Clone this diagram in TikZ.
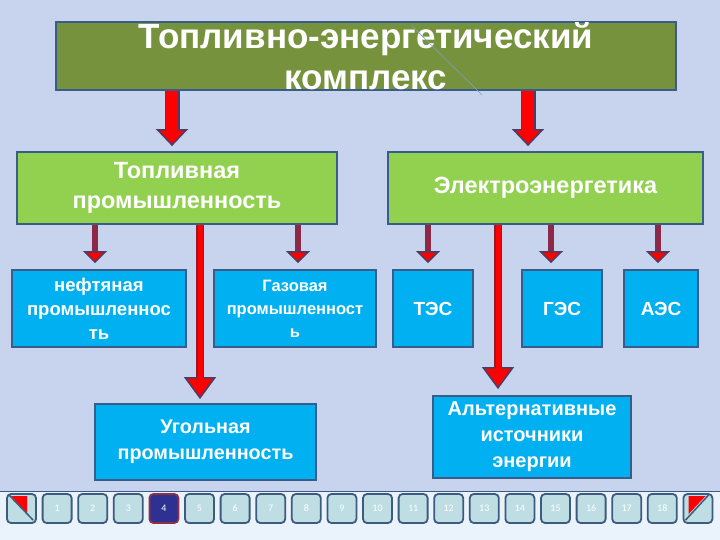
\documentclass[tikz,border=0pt]{standalone}
\usepackage{fontspec}
\setmainfont{Liberation Sans}
\newfontfamily\navfont{Carlito}
\usepackage{tikz}
\usetikzlibrary{arrows.meta, positioning, calc, backgrounds}

\definecolor{bgblue}{RGB}{200,211,238}
\definecolor{barbg}{RGB}{234,242,251}
\definecolor{edgeblue}{RGB}{56,93,138}
\definecolor{titleolive}{RGB}{118,146,60}
\definecolor{leafgreen}{RGB}{146,208,80}
\definecolor{skyblue}{RGB}{0,176,240}
\definecolor{arrowedge}{RGB}{70,64,104}
\definecolor{shaftred}{RGB}{140,40,72}
\definecolor{darkred}{RGB}{150,25,40}
\definecolor{strayline}{RGB}{120,160,205}
\definecolor{btnfill}{RGB}{190,222,228}
\definecolor{btnedge}{RGB}{61,90,128}
\definecolor{btncur}{RGB}{46,49,146}
\definecolor{btncuredge}{RGB}{140,50,70}

\begin{document}
\begin{tikzpicture}[
    x=1pt, y=-1pt,
    % Box styles
    titlebox/.style={rectangle, draw=edgeblue, line width=1.8pt, fill=titleolive, text=white, align=center, inner sep=0pt, minimum width=620pt, minimum height=68pt, font=\bfseries\fontsize{35}{41}\selectfont},
    branch/.style={rectangle, draw=edgeblue, line width=1.8pt, fill=leafgreen, text=white, align=center, minimum height=72pt, font=\bfseries\fontsize{23.5}{30}\selectfont},
    leaf/.style={rectangle, draw=edgeblue, line width=1.8pt, fill=skyblue, text=white, align=center, minimum height=77pt, font=\bfseries\fontsize{18.5}{24}\selectfont},
    % Arrow styles
    bigarrow/.style={draw=arrowedge, line width=15pt, -{Triangle[length=17pt, width=32pt, line width=1.5pt, fill=red]}, postaction={draw=red, line width=12pt, -, shorten >=16pt}},
    subarrow/.style={draw=shaftred, line width=6pt, -{Triangle[length=12pt, width=24pt, line width=1.5pt, color=arrowedge, fill=red]}},
    longarrow/.style={draw=darkred, line width=8pt, -{Triangle[length=22pt, width=32pt, line width=1.5pt, color=arrowedge, fill=red]}, postaction={draw=red, line width=5pt, -, shorten >=21pt}},
    % Navigation buttons
    navbtn/.style={rectangle, rounded corners=4pt, draw=btnedge, line width=1.8pt, fill=btnfill, text=white, minimum size=29pt, inner sep=0pt, font=\navfont\fontsize{10}{10}\selectfont},
    navcur/.style={fill=btncur, draw=btncuredge}
]
\useasboundingbox (0,0) rectangle (720,540);

% -----------------------------------------------------------
% Background
% -----------------------------------------------------------
\begin{scope}[on background layer]
    \fill[bgblue] (0,0) rectangle (720,491);
    \fill[barbg] (0,491) rectangle (720,540);
    \draw[btnedge, line width=1pt] (0,491) -- (720,491);
\end{scope}

% -----------------------------------------------------------
% Level 1 and 2
% -----------------------------------------------------------
\node[titlebox] (tek) at (366,56) {Топливно-энергетический\\комплекс};
\node[branch, minimum width=320pt] (fuel) at (177,188) {Топливная\\промышленность};
\node[branch, minimum width=315pt] (elec) at (545.5,188) {Электроэнергетика};

% -----------------------------------------------------------
% Level 3
% -----------------------------------------------------------
\node[leaf, minimum width=174pt] (oil) at (99,308.5) {нефтяная\\промышленнос\\ть};
\node[leaf, minimum width=162pt, font=\bfseries\fontsize{16.5}{23}\selectfont] (gas) at (295,308.5) {Газовая\\промышленност\\ь};
\node[leaf, minimum width=80pt, font=\bfseries\fontsize{19}{23}\selectfont] (tes) at (433,308.5) {ТЭС};
\node[leaf, minimum width=80pt, font=\bfseries\fontsize{19}{23}\selectfont] (ges) at (562,308.5) {ГЭС};
\node[leaf, minimum width=74pt, font=\bfseries\fontsize{19}{23}\selectfont] (aes) at (661,308.5) {АЭС};
\node[leaf, minimum width=221pt, minimum height=76pt, font=\bfseries\fontsize{19.8}{26}\selectfont] (coal) at (205.5,442) {Угольная\\промышленность};
\node[leaf, minimum width=198pt, minimum height=82pt, font=\bfseries\fontsize{20}{26}\selectfont] (alt) at (532,437) {Альтернативные\\источники\\энергии};

% stray stroke across the title
\draw[strayline, line width=0.6pt] (412,26) -- (482,95);

% -----------------------------------------------------------
% Connectors
% -----------------------------------------------------------
\coordinate (xl) at (172,0);
\coordinate (xr) at (528,0);
\coordinate (xoil) at (95,0);
\coordinate (xgas) at (298,0);
\coordinate (xtes) at (428,0);
\coordinate (xges) at (551,0);
\coordinate (xaes) at (658,0);
\coordinate (xcoal) at (200,0);
\coordinate (xalt) at (498,0);

\begin{scope}[on background layer]
    \draw[bigarrow, shorten >=5pt] (tek.south -| xl) -- (fuel.north -| xl);
    \draw[bigarrow, shorten >=5pt] (tek.south -| xr) -- (elec.north -| xr);

    \draw[subarrow, shorten >=6pt] (fuel.south -| xoil) -- (oil.north -| xoil);
    \draw[subarrow, shorten >=6pt] (fuel.south -| xgas) -- (gas.north -| xgas);
    \draw[subarrow, shorten >=6pt] (elec.south -| xtes) -- (tes.north -| xtes);
    \draw[subarrow, shorten >=6pt] (elec.south -| xges) -- (ges.north -| xges);
    \draw[subarrow, shorten >=6pt] (elec.south -| xaes) -- (aes.north -| xaes);

    \draw[longarrow, shorten >=4pt] (fuel.south -| xcoal) -- (coal.north -| xcoal);
    \draw[longarrow, shorten >=6pt] (elec.south -| xalt) -- (alt.north -| xalt);
\end{scope}

% -----------------------------------------------------------
% Navigation bar
% -----------------------------------------------------------
\node[navbtn] (prev) at (21.5,508.5) {};
\foreach \i in {1,2,3,5,6,...,18}
    \node[navbtn] (b\i) at ({21.5+35.6*\i},508.5) {\i};
\node[navbtn, navcur] (b4) at ({21.5+35.6*4},508.5) {4};
\node[navbtn] (next) at ({21.5+35.6*19},508.5) {};

\fill[red] ([shift={(5,3)}]prev.north west) -- ([shift={(21,3)}]prev.north west) -- ([shift={(21,20)}]prev.north west) -- cycle;
\draw[btnedge, line width=1.5pt] ([shift={(3,2)}]prev.north west) -- ([shift={(27,27)}]prev.north west);
\fill[red] ([shift={(6,3)}]next.north west) -- ([shift={(23,3)}]next.north west) -- ([shift={(6,21)}]next.north west) -- cycle;
\draw[btnedge, line width=1.5pt] ([shift={(26,2)}]next.north west) -- ([shift={(3,27)}]next.north west);

\end{tikzpicture}
\end{document}
